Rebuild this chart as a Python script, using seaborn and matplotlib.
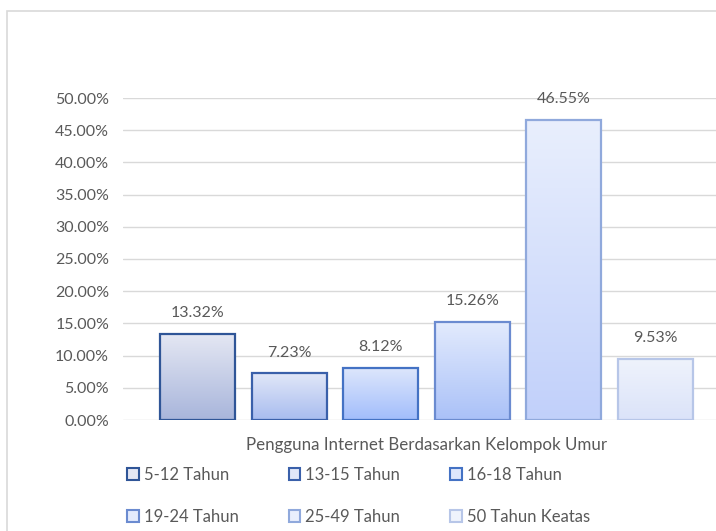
import numpy as np
import pandas as pd
import matplotlib
matplotlib.use("Agg")
import matplotlib.pyplot as plt
import seaborn as sns
from matplotlib.patches import Patch, Rectangle
from matplotlib.colors import LinearSegmentedColormap

categories = ["5-12 Tahun", "13-15 Tahun", "16-18 Tahun", "19-24 Tahun", "25-49 Tahun", "50 Tahun Keatas"]
values = [0.1332, 0.0723, 0.0812, 0.1526, 0.4655, 0.0953]
value_labels = ["13.32%", "7.23%", "8.12%", "15.26%", "46.55%", "9.53%"]
xlabel = "Pengguna Internet Berdasarkan Kelompok Umur"
yticks = [0.0, 0.05, 0.10, 0.15, 0.20, 0.25, 0.30, 0.35, 0.40, 0.45, 0.50]

top_colors = ["#E4E7F3", "#E1E7F8", "#DEE7FC", "#E3EBFD", "#E9EFFD", "#EFF3FC"]
bottom_colors = ["#A8B5DB", "#A8BCEF", "#A2BDFB", "#AAC1F8", "#C1D0FA", "#DBE3F9"]
edge_colors = ["#2F5597", "#3A60AA", "#4472C4", "#6B8BD0", "#90A9DC", "#B7C6E8"]

sns.set_theme(style="white")
plt.rcParams['font.family'] = ['Lato', 'DejaVu Sans']
text_color = "#595959"
grid_color = "#D9D9D9"

fig = plt.figure(figsize=(7.16, 5.31), dpi=100)
fig.patches.append(Rectangle((7/716, -0.1), 1.2, 1.1 - 11/531, transform=fig.transFigure,
                             facecolor="none", edgecolor=grid_color, lw=1.2))
ax = fig.add_axes([123/716, 1 - 420/531, (716 - 123)/716, (420 - 98)/531])

df = pd.DataFrame({"group": categories, "value": values})
sns.barplot(data=df, x="group", y="value", hue="group", palette=top_colors,
            width=75/91.6, legend=False, ax=ax, saturation=1)

x0lim = -(197.5 - 123)/91.6
x1lim = (716 - 197.5)/91.6
for i, p in enumerate(ax.patches):
    cmap = LinearSegmentedColormap.from_list(f"g{i}", [bottom_colors[i], top_colors[i]])
    x = p.get_x(); w = p.get_width(); h = p.get_height()
    grad = np.linspace(0, 1, 256).reshape(-1, 1)
    ax.imshow(grad, extent=[x, x + w, 0, h], origin="lower", aspect="auto",
              cmap=cmap, zorder=2)
    p.set_facecolor("none")
    p.set_edgecolor(edge_colors[i])
    p.set_linewidth(1.6)
    p.set_zorder(3)
    ax.annotate(value_labels[i], (x + w/2, h), xytext=(0, 10), textcoords="offset points",
                ha="center", va="bottom", fontsize=11.5, color=text_color)

ax.set_xlim(x0lim, x1lim)
ax.set_ylim(0, 0.5)
ax.set_yticks(yticks)
ax.set_yticklabels([f"{t*100:.2f}%" for t in yticks], fontsize=11.5, color=text_color)
ax.tick_params(axis="y", length=0, pad=10)
ax.set_xticks([])
ax.set_xlabel("")
ax.set_ylabel("")
ax.yaxis.grid(True, color=grid_color, lw=1)
ax.set_axisbelow(True)
for s in ax.spines.values():
    s.set_visible(False)

fig.text(427/716, 1 - 445/531, xlabel, ha="center", va="center", fontsize=12.2, color=text_color)

handles = [Patch(facecolor=top_colors[i], edgecolor=edge_colors[i], lw=1.5) for i in range(6)]
order = [0, 3, 1, 4, 2, 5]
leg = fig.legend([handles[i] for i in order], [categories[i] for i in order], ncol=3,
                 loc="upper left", bbox_to_anchor=(127/716, 1 - 467/531), frameon=False,
                 fontsize=12, handlelength=0.7, handleheight=0.7, handletextpad=0.3,
                 columnspacing=3.0, labelspacing=1.55, borderpad=0, borderaxespad=0)
for t in leg.get_texts():
    t.set_color(text_color)

fig.savefig("out.png", dpi=100)
